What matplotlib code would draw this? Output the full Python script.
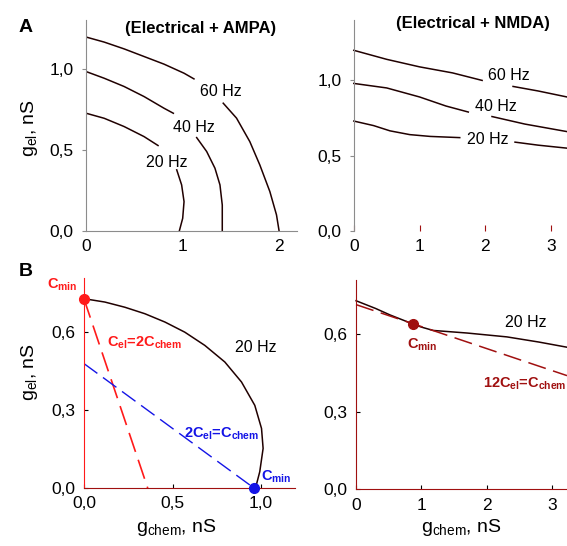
import numpy as np
import matplotlib
matplotlib.use("Agg")
import matplotlib.pyplot as plt

plt.rcParams['font.family'] = ['Liberation Sans', 'DejaVu Sans']
plt.rcParams['mathtext.fontset'] = 'custom'
plt.rcParams['mathtext.rm'] = 'Liberation Sans'
plt.rcParams['mathtext.it'] = 'Liberation Sans'
plt.rcParams['mathtext.bf'] = 'Liberation Sans:bold'

nan = np.nan

# --- Panel A, Electrical + AMPA (curves broken where the labels sit) ---
ampa_60_x = [0, 0.187, 0.394, 0.601, 0.808, 1.016, 1.119, nan,
             1.423, 1.561, 1.699, 1.803, 1.907, 1.976, 2.003]
ampa_60_y = [1.196, 1.165, 1.123, 1.076, 1.029, 0.973, 0.938, nan,
             0.788, 0.696, 0.551, 0.407, 0.243, 0.099, 0.0]
ampa_40_x = [0, 0.187, 0.394, 0.601, 0.808, 0.905, nan,
             1.147, 1.251, 1.337, 1.389, 1.413, 1.413]
ampa_40_y = [0.983, 0.942, 0.891, 0.829, 0.757, 0.726, nan,
             0.576, 0.49, 0.387, 0.284, 0.16, 0.0]
ampa_20_x = [0, 0.187, 0.394, 0.601, 0.746, nan, 0.94, 0.991, 1.016, 1.002, 0.967]
ampa_20_y = [0.726, 0.695, 0.644, 0.582, 0.527, nan, 0.377, 0.284, 0.181, 0.078, 0.0]
hz_labels = ["60 Hz", "40 Hz", "20 Hz"]
ampa_label_x = [1.40, 1.12, 0.84]
ampa_label_y = [0.86, 0.64, 0.42]

# --- Panel A, Electrical + NMDA ---
nmda_60_x = [0, 0.5, 1.0, 1.5, 1.95, nan, 2.42, 2.8, 3.24]
nmda_60_y = [1.2, 1.14, 1.09, 1.05, 1.0, nan, 0.96, 0.93, 0.89]
nmda_40_x = [0, 0.25, 0.5, 0.75, 1.0, 1.4, 1.74, nan, 2.1, 2.6, 3.24]
nmda_40_y = [0.98, 0.965, 0.95, 0.92, 0.89, 0.83, 0.79, nan, 0.76, 0.71, 0.66]
nmda_20_x = [0, 0.3, 0.55, 0.85, 1.16, 1.61, nan, 2.45, 2.8, 3.24]
nmda_20_y = [0.73, 0.7, 0.665, 0.64, 0.628, 0.62, nan, 0.59, 0.57, 0.55]
nmda_label_x = [2.35, 2.16, 2.04]
nmda_label_y = [1.03, 0.83, 0.61]

# --- Panel B left ---
b1_curve_x = [0, 0.118, 0.231, 0.344, 0.457, 0.569, 0.682, 0.795, 0.889,
              0.964, 1.002, 1.011, 0.992, 0.968]
b1_curve_y = [0.73, 0.717, 0.697, 0.672, 0.64, 0.601, 0.55, 0.486, 0.409,
              0.319, 0.23, 0.153, 0.063, 0.0]
b1_red_x = [0, 0.36]
b1_red_y = [0.73, 0.0]
b1_blue_x = [0, 0.96]
b1_blue_y = [0.48, 0.0]

# --- Panel B right ---
b2_curve_x = [0, 0.3, 0.52, 0.87, 1.0, 1.18, 1.7, 2.31, 2.8, 3.23]
b2_curve_y = [0.73, 0.7, 0.675, 0.64, 0.628, 0.615, 0.605, 0.59, 0.57, 0.55]
b2_line_x = [0, 0.87, 3.23]
b2_line_y = [0.715, 0.641, 0.44]
b2_min = (0.87, 0.64)

GRAY = '#8c8c8c'
RED = '#ff1a1a'
DRED = '#a01010'
BLUE = '#1414e6'
TICK_FS = 12.5
LAB_FS = 14

fig = plt.figure(figsize=(5.67, 5.46), dpi=100)


def fmt(v, nd):
    return f"{v:.{nd}f}".replace('.', ',')


def setup(ax, xlim, ylim, xt, yt, xnd, ynd, left_c, bottom_c, show_bottom=True):
    ax.set_xlim(*xlim)
    ax.set_ylim(*ylim)
    for s in ['top', 'right']:
        ax.spines[s].set_visible(False)
    ax.spines['left'].set_color(left_c)
    ax.spines['bottom'].set_color(bottom_c)
    ax.spines['bottom'].set_visible(show_bottom)
    ax.set_xticks(xt)
    ax.set_xticklabels([fmt(v, xnd) for v in xt], fontsize=TICK_FS)
    ax.set_yticks(yt)
    ax.set_yticklabels([fmt(v, ynd) for v in yt], fontsize=TICK_FS)
    ax.tick_params(axis='both', direction='in', length=3, width=0.8, pad=6)
    ax.patch.set_alpha(0)


def bold_label(ax, x, y, s, color, fs=10.5, **kw):
    ax.text(x, y, s, color=color, fontsize=fs, fontweight='bold', va='center', **kw)


# A left
ax1 = fig.add_axes([0.152, 0.577, 0.372, 0.386])
setup(ax1, (0, 2.19), (0, 1.3), [0, 1, 2], [0, 0.5, 1.0], 0, 1, GRAY, GRAY)
ax1.tick_params(axis='x', length=0)
ax1.tick_params(axis='y', direction='out', colors=GRAY, labelcolor='black')
for xs, ys in [(ampa_60_x, ampa_60_y), (ampa_40_x, ampa_40_y), (ampa_20_x, ampa_20_y)]:
    ax1.plot(xs, ys, color='#200000', lw=1.1)
for t, x, y in zip(hz_labels, ampa_label_x, ampa_label_y):
    ax1.text(x, y, t, ha='center', va='center', fontsize=11.5)
ax1.text(0.54, 0.962, "(Electrical + AMPA)", transform=ax1.transAxes, ha='center', va='center',
         fontsize=12, fontweight='bold')

# A right
ax2 = fig.add_axes([0.624, 0.577, 0.376, 0.386])
setup(ax2, (0, 3.24), (0, 1.4), [0, 1, 2, 3], [0, 0.5, 1.0], 0, 1, GRAY, GRAY, show_bottom=False)
ax2.tick_params(axis='x', colors=DRED, labelcolor='black', length=4)
ax2.tick_params(axis='y', direction='out', colors=GRAY, labelcolor='black')
for xs, ys in [(nmda_60_x, nmda_60_y), (nmda_40_x, nmda_40_y), (nmda_20_x, nmda_20_y)]:
    ax2.plot(xs, ys, color='#200000', lw=1.1, clip_on=False)
for t, x, y in zip(hz_labels, nmda_label_x, nmda_label_y):
    ax2.text(x, y, t, ha='center', va='center', fontsize=11.5)
ax2.text(0.56, 0.985, "(Electrical + NMDA)", transform=ax2.transAxes, ha='center', va='center',
         fontsize=12, fontweight='bold')

# B left
ax3 = fig.add_axes([0.148, 0.106, 0.372, 0.385])
setup(ax3, (0, 1.19), (0, 0.81), [0, 0.5, 1.0], [0, 0.3, 0.6], 1, 1, RED, DRED)
ax3.plot(b1_curve_x, b1_curve_y, color='#200000', lw=1.1)
ax3.plot(b1_red_x, b1_red_y, color=RED, lw=1.2, dashes=(12, 5))
ax3.plot(b1_blue_x, b1_blue_y, color=BLUE, lw=1.0, dashes=(12, 5))
ax3.plot([b1_red_x[0]], [b1_red_y[0]], 'o', color=RED, ms=7, clip_on=False)
ax3.plot([b1_blue_x[-1]], [b1_blue_y[-1]], 'o', color=BLUE, ms=7, clip_on=False, zorder=5)
ax3.text(0.97, 0.54, "20 Hz", ha='center', va='center', fontsize=11.5)
bold_label(ax3, 0.13, 0.56, r"C$_{\mathbf{el}}$=2C$_{\mathbf{chem}}$", RED, ha='left')
bold_label(ax3, 0.565, 0.21, r"2C$_{\mathbf{el}}$=C$_{\mathbf{chem}}$", BLUE, ha='left')
bold_label(ax3, -0.12, 0.785, r"C$_{\mathbf{min}}$", RED, ha='center')
bold_label(ax3, 1.0, 0.045, r"C$_{\mathbf{min}}$", BLUE, ha='left')

# B right
ax4 = fig.add_axes([0.628, 0.104, 0.372, 0.383])
setup(ax4, (0, 3.23), (0, 0.81), [0, 1, 2, 3], [0, 0.3, 0.6], 0, 1, DRED, DRED)
ax4.plot(b2_curve_x, b2_curve_y, color='#200000', lw=1.1, clip_on=False)
ax4.plot(b2_line_x, b2_line_y, color=DRED, lw=1.1, dashes=(12, 5), clip_on=False)
ax4.plot([b2_min[0]], [b2_min[1]], 'o', color=DRED, ms=7)
ax4.text(2.6, 0.645, "20 Hz", ha='center', va='center', fontsize=11.5)
bold_label(ax4, 0.78, 0.56, r"C$_{\mathbf{min}}$", DRED, ha='left')
bold_label(ax4, 1.95, 0.41, r"12C$_{\mathbf{el}}$=C$_{\mathbf{chem}}$", DRED, ha='left')

# axis labels and panel letters
fig.text(30 / 567, 1 - 128 / 546, r"g$_{\mathrm{el}}$, nS", rotation=90, ha='center', va='center', fontsize=LAB_FS)
fig.text(30 / 567, 1 - 372 / 546, r"g$_{\mathrm{el}}$, nS", rotation=90, ha='center', va='center', fontsize=LAB_FS)
fig.text(176 / 567, 1 - 527 / 546, r"g$_{\mathrm{chem}}$, nS", ha='center', va='center', fontsize=LAB_FS)
fig.text(461 / 567, 1 - 527 / 546, r"g$_{\mathrm{chem}}$, nS", ha='center', va='center', fontsize=LAB_FS)
fig.text(26 / 567, 1 - 28 / 546, "A", ha='center', va='center', fontsize=14, fontweight='bold')
fig.text(26 / 567, 1 - 272 / 546, "B", ha='center', va='center', fontsize=14, fontweight='bold')

fig.savefig("out.png", dpi=100)
